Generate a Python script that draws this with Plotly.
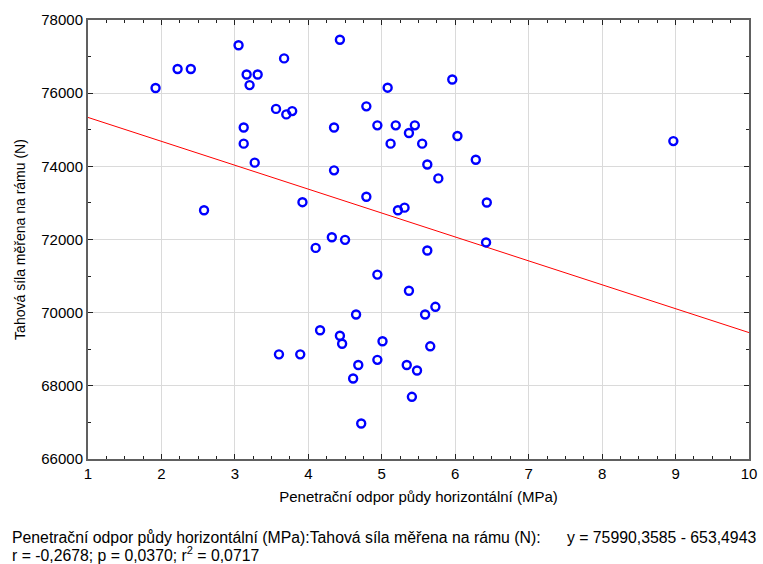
import plotly.graph_objects as go

x_vals = [1.92, 2.22, 2.40, 2.58, 3.05, 3.16, 3.31, 3.20, 3.12, 3.12, 3.27, 3.56, 3.67, 3.70, 3.78, 3.92,
          4.43, 5.96, 5.08, 4.79, 4.35, 4.94, 5.19, 5.45, 5.37, 6.03, 5.12, 5.55, 6.28, 5.62, 4.35, 5.77,
          4.79, 6.43, 5.22, 5.31, 8.97, 4.10, 4.32, 4.50, 5.62, 6.42, 4.94, 5.37, 5.73, 5.59, 4.65, 4.16,
          4.43, 4.46, 5.01, 5.66, 3.89, 4.94, 4.68, 5.34, 5.48, 4.61, 5.41, 4.72, 3.60]
y_vals = [76140, 76660, 76660, 72800, 77310, 76510, 76510, 76220, 75060, 74620, 74100, 75570, 76950, 75420, 75510, 73020,
          77460, 76375, 76150, 75640, 75060, 75120, 75120, 75120, 74910, 74830, 74620, 74620, 74180, 74050, 73890, 73670,
          73170, 73010, 72800, 72870, 74690, 71770, 72060, 71990, 71700, 71920, 71040, 70600, 70160, 69950, 69950, 69520,
          69370, 69150, 69220, 69080, 68860, 68710, 68570, 68570, 68420, 68200, 67700, 66970, 68860]

intercept = 75990.3585
slope = -653.4943
line_x = [1, 10]
line_y = [intercept + slope * v for v in line_x]

x_title = "Penetrační odpor půdy horizontální (MPa)"
y_title = "Tahová síla měřena na rámu (N)"
note1 = "Penetrační odpor půdy horizontální (MPa):Tahová síla měřena na rámu (N):" + "\u00a0" * 6 + "y = 75990,3585 - 653,4943"
note2 = "r = -0,2678; p = 0,0370; r<sup>2</sup> = 0,0717"

font = "Liberation Sans, Arial, sans-serif"
fs_tick = 15
fs_xtitle = 15
fs_ytitle = 14
fs_note = 15.8

fig = go.Figure()
fig.add_trace(go.Scatter(x=line_x, y=line_y, mode="lines",
                         line=dict(color="#ff0000", width=1), hoverinfo="skip", showlegend=False))
fig.add_trace(go.Scatter(x=x_vals, y=y_vals, mode="markers",
                         marker=dict(symbol="circle-open", size=8, color="#0000ff",
                                     line=dict(width=2.4, color="#0000ff")),
                         showlegend=False))

axis_common = dict(
    showline=True, linecolor="#606060", linewidth=2, mirror="ticks",
    ticks="inside", ticklen=5, tickcolor="#222222", tickwidth=1,
    showgrid=True, gridcolor="#dadada", gridwidth=1, zeroline=False,
    tickfont=dict(family=font, size=fs_tick, color="#000000"),
)

fig.update_xaxes(range=[1, 10], dtick=1, tick0=1,
                 minor=dict(dtick=0.25, ticks="inside", ticklen=3, tickcolor="#222222", showgrid=False),
                 title=dict(text=x_title, font=dict(family=font, size=fs_xtitle, color="#000000"), standoff=10),
                 **axis_common)
fig.update_yaxes(range=[66000, 78000], dtick=2000, tickformat="d",
                 minor=dict(dtick=1000, ticks="inside", ticklen=3, tickcolor="#222222", showgrid=False),
                 title=dict(text=y_title, font=dict(family=font, size=fs_ytitle, color="#000000"), standoff=12),
                 **axis_common)

fig.add_annotation(text=note1, xref="paper", yref="paper", x=-0.118, y=-0.1777,
                   xanchor="left", yanchor="middle", showarrow=False, align="left",
                   font=dict(family=font, size=fs_note, color="#000000"))
fig.add_annotation(text=note2, xref="paper", yref="paper", x=-0.118, y=-0.216,
                   xanchor="left", yanchor="middle", showarrow=False, align="left",
                   font=dict(family=font, size=fs_note, color="#000000"))

fig.update_layout(width=763, height=564, margin=dict(l=88, r=14, t=20, b=105, autoexpand=False),
                  paper_bgcolor="white", plot_bgcolor="white",
                  font=dict(family=font, size=fs_note, color="#000000"))

fig.write_html("out.html", config={"displayModeBar": False},
               post_script="document.body.style.margin='0';")
